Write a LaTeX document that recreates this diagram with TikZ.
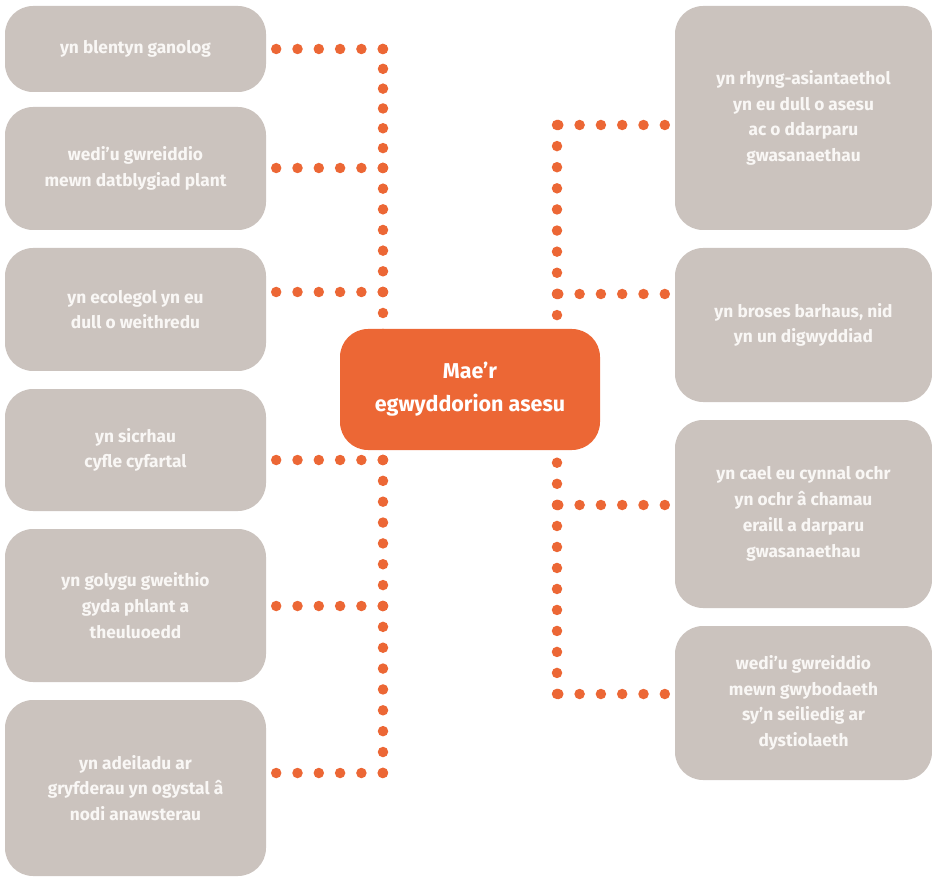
\documentclass[tikz,border=0pt]{standalone}
\usepackage{fontspec}
\setmainfont{Fira Sans}
\definecolor{boxgrey}{HTML}{CBC3BE}
\definecolor{orng}{HTML}{EC6735}
\definecolor{txtw}{HTML}{F9F7F5}
\begin{document}
\begin{tikzpicture}[x=1pt,y=-1pt,
  greybox/.style={fill=boxgrey, rounded corners=28pt, inner sep=0pt, align=center,
    text=txtw, font=\fontsize{17.3}{25.8}\selectfont\bfseries},
  lbox/.style={greybox, minimum width=261pt},
  rbox/.style={greybox, minimum width=257pt},
  centrebox/.style={fill=orng, rounded corners=28pt, inner sep=0pt, align=center,
    minimum width=260pt, minimum height=121pt, text=white,
    font=\fontsize{21.5}{33}\selectfont\bfseries},
  dotline/.style={draw=orng, line width=10.5pt, line cap=round, dash pattern=on 0pt off #1},
  dotline/.default=21.3pt
]
\useasboundingbox (0,0) rectangle (932,877);
% left boxes
\node[lbox, minimum height=86pt] (l1) at (135.5,49) {yn blentyn ganolog};
\node[lbox, minimum height=123pt] (l2) at (135.5,168.5) {wedi’u gwreiddio\\mewn datblygiad plant};
\node[lbox, minimum height=123pt] (l3) at (135.5,309.5) {yn ecolegol yn eu\\dull o weithredu};
\node[lbox, minimum height=122pt] (l4) at (135.5,450) {yn sicrhau\\cyfle cyfartal};
\node[lbox, minimum height=153pt] (l5) at (135.5,605.5) {yn golygu gweithio\\gyda phlant a\\theuluoedd};
\node[lbox, minimum height=176pt] (l6) at (135.5,788) {yn adeiladu ar\\gryfderau yn ogystal â\\nodi anawsterau};
% right boxes
\node[rbox, minimum height=224pt] (r1) at (803.5,118) {yn rhyng-asiantaethol\\yn eu dull o asesu\\ac o ddarparu\\gwasanaethau};
\node[rbox, minimum height=154pt] (r2) at (803.5,325) {yn broses barhaus, nid\\yn un digwyddiad};
\node[rbox, minimum height=188pt] (r3) at (803.5,514) {yn cael eu cynnal ochr\\yn ochr â chamau\\eraill a darparu\\gwasanaethau};
\node[rbox, minimum height=154pt] (r4) at (803.5,703) {wedi’u gwreiddio\\mewn gwybodaeth\\sy’n seiliedig ar\\dystiolaeth};
% spine coordinates
\coordinate (lj1) at (383,49);
\coordinate (lj2) at (383,168);
\coordinate (lj3) at (383,292);
\coordinate (lj4) at (383,460);
\coordinate (lj5) at (383,606);
\coordinate (lj6) at (383,773);
\coordinate (rj1) at (557,125);
\coordinate (rj2) at (557,294);
\coordinate (rj3) at (557,505);
\coordinate (rj4) at (557,694);
% spines
\draw[dotline=19.82pt] (lj1) -- (lj2);
\draw[dotline=20.66pt] (lj2) -- (lj3);
\draw[dotline=20.99pt] (lj3) -- (lj4);
\draw[dotline=20.85pt] (lj4) -- (lj5);
\draw[dotline=20.86pt] (lj5) -- (lj6);
\draw[dotline=21.11pt] (rj1) -- (rj2);
\draw[dotline=21.09pt] (rj2) -- (rj3);
\draw[dotline=20.99pt] (rj3) -- (rj4);
% branches
\foreach \i in {1,...,6}{
  \draw[dotline] ([xshift=10pt]lj\i -| l\i.east) -- (lj\i);
}
\foreach \i in {1,...,4}{
  \draw[dotline] ([xshift=-10pt]rj\i -| r\i.west) -- (rj\i);
}
% centre
\node[centrebox] (c) at (470,389.5) {Mae’r\\egwyddorion asesu};
\end{tikzpicture}
\end{document}
